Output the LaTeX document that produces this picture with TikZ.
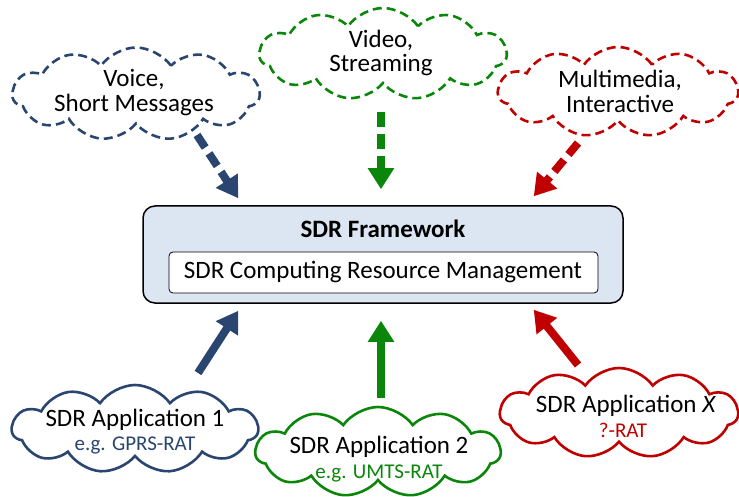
\documentclass[tikz,border=0pt]{standalone}
\usepackage{fontspec}
\setmainfont{Carlito}
\usetikzlibrary{shapes.symbols,arrows.meta}
\definecolor{dblue}{HTML}{2A4570}
\definecolor{dgreen}{HTML}{0A870A}
\definecolor{dred}{HTML}{C00000}
\definecolor{fwfill}{HTML}{DCE6F2}
\begin{document}
\begin{tikzpicture}[x=1pt,y=-1pt,
  cloudshape/.style={cloud, cloud puffs=11, cloud puff arc=110, cloud ignores aspect, inner sep=0pt, line width=2.6pt, fill=white},
  dashcloud/.style={cloudshape, dash pattern=on 9pt off 5pt},
  txt/.style={anchor=base, inner sep=0pt, font=\fontsize{25}{25}\selectfont},
  subtxt/.style={anchor=base, inner sep=0pt, font=\fontsize{21}{25}\selectfont},
  bigarrow/.style={line width=8pt, -{Triangle[length=21pt,width=25pt]}},
  dasharrow/.style={bigarrow, dash pattern=on 15pt off 7pt}]
\useasboundingbox (0,0) rectangle (739,497);

% top clouds
\node[dashcloud, draw=dblue, minimum width=247pt, minimum height=93pt] (voice) at (136,94) {};
\node[dashcloud, draw=dgreen, minimum width=247pt, minimum height=92pt] (video) at (383,54) {};
\node[dashcloud, draw=dred, minimum width=240pt, minimum height=90pt] (mm) at (618,92) {};
\node[txt] (voiceA) at (134,87) {Voice,};
\node[txt] (voiceB) at (134,112) {Short Messages};
\node[txt] (videoA) at (381,48) {Video,};
\node[txt] (videoB) at (381,72) {Streaming};
\node[txt] (mmA) at (620,88) {Multimedia,};
\node[txt] (mmB) at (620,113) {Interactive};

% bottom clouds
\node[cloudshape, draw=dblue, minimum width=246pt, minimum height=88pt] (app1) at (135,429) {};
\node[cloudshape, draw=dgreen, minimum width=245pt, minimum height=90pt] (app2) at (378,452) {};
\node[cloudshape, draw=dred, minimum width=238pt, minimum height=90pt] (appx) at (619,413) {};
\node[txt] (app1A) at (135,426) {SDR Application 1};
\node[subtxt, text=dblue] (app1B) at (135,450) {e.g. GPRS-RAT};
\node[txt] (app2A) at (379,453) {SDR Application 2};
\node[subtxt, text=dgreen] (app2B) at (379,478) {e.g. UMTS-RAT};
\node[txt] (appxA) at (626,412) {SDR Application \textit{X}};
\node[subtxt, text=dred] (appxB) at (623,437) {?-RAT};

% framework
\node[draw=black, line width=1.5pt, fill=fwfill, rounded corners=12pt, minimum width=480pt, minimum height=97pt, inner sep=0pt] (fw) at (383,254.5) {};
\node[txt, font=\fontsize{25}{25}\selectfont\bfseries] (fwtitle) at (383,238) {SDR Framework};
\node[draw=black, line width=0.8pt, fill=white, rounded corners=4pt, minimum width=429pt, minimum height=41pt, inner sep=0pt] (crm) at (383.5,272.5) {};
\node[txt] (crmtxt) at (383,278) {SDR Computing Resource Management};

% arrows
\draw[dasharrow, dblue] ([shift={(61,41)}]voice.center) -- ([shift={(96,-7)}]fw.north west);
\draw[dasharrow, dgreen] ([shift={(-2,58)}]video.center) -- ([shift={(-2,-16)}]fw.north);
\draw[dasharrow, dred] ([shift={(-40,51)}]mm.center) -- ([shift={(-90,-9)}]fw.north east);
\draw[bigarrow, dblue] ([shift={(63,-56)}]app1.center) -- ([shift={(96,7)}]fw.south west);
\draw[bigarrow, dgreen] ([shift={(3,-54)}]app2.center) -- ([shift={(-2,17)}]fw.south);
\draw[bigarrow, dred] ([shift={(-41,-48)}]appx.center) -- ([shift={(-90,6)}]fw.south east);
\end{tikzpicture}
\end{document}
